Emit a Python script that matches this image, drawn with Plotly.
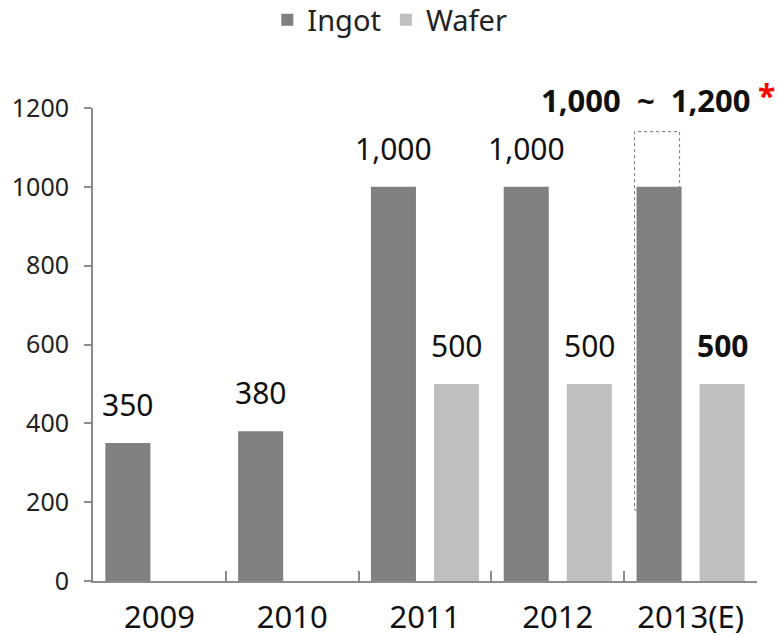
import plotly.graph_objects as go

# ---- data ----
years = ["2009", "2010", "2011", "2012", "2013(E)"]
ingot = [350, 380, 1000, 1000, 1000]
wafer = [None, None, 500, 500, 500]
ingot_labels = ["350", "380", "1,000", "1,000", None]
wafer_labels = [None, None, "500", "500", "500"]
range_2013 = (1000, 1200)
y_ticks = [0, 200, 400, 600, 800, 1000, 1200]
box_2013 = (180, 1140)  # dotted estimate box extent (value units)

INGOT_C = "#808080"
WAFER_C = "#bfbfbf"
AXIS_C = "#8c8c8c"
FONT = "Noto Sans"

BARGAP = 0.05
GROUPGAP = 0.286

fig = go.Figure()
fig.add_trace(go.Bar(name="Ingot", x=years, y=ingot, marker_color=INGOT_C,
                     marker_line_width=0))
fig.add_trace(go.Bar(name="Wafer", x=years, y=wafer, marker_color=WAFER_C,
                     marker_line_width=0))

slot = (1 - BARGAP) / 2
bw = slot * (1 - GROUPGAP)

annotations = []
for i, (v, lab) in enumerate(zip(ingot, ingot_labels)):
    if lab is None:
        continue
    annotations.append(dict(x=i - slot / 2, y=v, yshift=16,
                            text=lab, showarrow=False, yanchor="bottom",
                            font=dict(family=FONT, size=30, color="#111")))
for i, (v, lab) in enumerate(zip(wafer, wafer_labels)):
    if lab is None:
        continue
    bold = i == len(years) - 1
    annotations.append(dict(x=i + slot / 2, y=v, yshift=16,
                            text=f"<b>{lab}</b>" if bold else lab,
                            showarrow=False, yanchor="bottom",
                            font=dict(family=FONT, size=30, color="#111")))
cx = len(years) - 1 - slot / 2
# range label for 2013 ingot
annotations.append(dict(x=cx, y=range_2013[1], yshift=8,
                        xshift=-13,
                        text=f"<b>{range_2013[0]:,}  ~  {range_2013[1]:,}</b>",
                        showarrow=False, yanchor="middle",
                        font=dict(family=FONT, size=31, color="#111")))
annotations.append(dict(x=cx, y=range_2013[1], yshift=13,
                        xshift=107, text="<b>*</b>", showarrow=False,
                        yanchor="middle",
                        font=dict(family=FONT, size=32, color="#ff0000")))

shapes = [dict(type="rect", xref="x", yref="y",
               x0=cx - bw / 2 - 0.015, x1=cx + bw / 2 - 0.015,
               y0=box_2013[0], y1=box_2013[1],
               line=dict(color="#777777", width=1, dash="dot"),
               fillcolor="rgba(0,0,0,0)", layer="below")]

fig.update_layout(
    width=777, height=636,
    margin=dict(l=93, r=20, t=108, b=55, autoexpand=False),
    plot_bgcolor="white", paper_bgcolor="white",
    barmode="group", bargap=BARGAP, bargroupgap=GROUPGAP,
    showlegend=True,
    legend=dict(orientation="h", x=0.447, xanchor="center", y=1.186,
                yanchor="middle", font=dict(family=FONT, size=29, color="#222"),
                itemwidth=30, tracegroupgap=0),
    annotations=annotations,
    shapes=shapes,
    font=dict(family=FONT),
)
fig.update_xaxes(type="category", range=[-0.5, len(years) - 0.5],
                 showline=True, linecolor=AXIS_C, linewidth=2,
                 ticks="inside", tickson="boundaries", ticklen=10,
                 tickcolor=AXIS_C, tickwidth=2, automargin=False,
                 ticklabelstandoff=8,
                 tickfont=dict(family=FONT, size=31, color="#111"),
                 showgrid=False)
fig.update_yaxes(range=[0, 1200], tickvals=y_ticks, showline=True,
                 linecolor=AXIS_C, linewidth=2, ticks="outside", ticklen=7,
                 tickcolor=AXIS_C, tickwidth=2, showgrid=False, zeroline=False,
                 automargin=False, ticklabelstandoff=10,
                 tickfont=dict(family=FONT, size=25, color="#222"))

fig.write_html("out.html", config={"displayModeBar": False},
               post_script="document.body.style.margin='0';"
                           "document.body.style.overflow='hidden';")
